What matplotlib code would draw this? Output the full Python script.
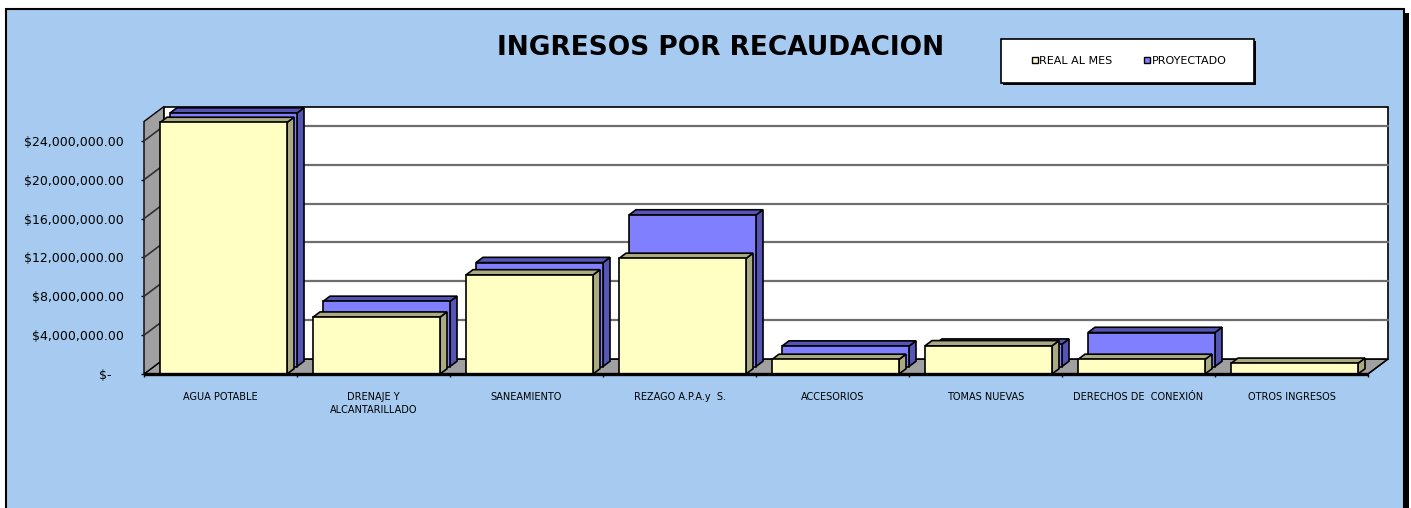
import matplotlib
matplotlib.use("Agg")
import matplotlib.pyplot as plt
from matplotlib.patches import Polygon, Rectangle, Patch
from matplotlib.lines import Line2D

# ---------------- data ----------------
title = "INGRESOS POR RECAUDACION"
categories = ["AGUA POTABLE", "DRENAJE Y\nALCANTARILLADO", "SANEAMIENTO",
              "REZAGO A.P.A.y  S.", "ACCESORIOS", "TOMAS NUEVAS",
              "DERECHOS DE  CONEXIÓN", "OTROS INGRESOS"]
real_al_mes = [25.9e6, 5.85e6, 10.2e6, 11.9e6, 1.5e6, 2.9e6, 1.5e6, 1.1e6]
proyectado = [26.1e6, 6.7e6, 10.7e6, 15.6e6, 2.1e6, 2.3e6, 3.5e6, 0.0]
series_labels = ["REAL AL MES", "PROYECTADO"]
y_ticks = [0, 4e6, 8e6, 12e6, 16e6, 20e6, 24e6]
y_tick_labels = ["$-   ", "$4,000,000.00", "$8,000,000.00", "$12,000,000.00",
                 "$16,000,000.00", "$20,000,000.00", "$24,000,000.00"]
y_max = 26e6

# ---------------- style ----------------
W, H = 1411, 508
BG = "#A6CAF0"
YEL_F, YEL_S = "#FFFFC4", "#ABAB82"
BLU_F, BLU_S = "#8080FF", "#5555B5"
GRAY = "#A0A0A0"

fig = plt.figure(figsize=(W / 100, H / 100), dpi=100)
fig.patch.set_facecolor("white")

# chart area with shadow
fig.patches.append(Rectangle((11 / W, -0.1), (1409 - 11) / W, (H - 13) / H + 0.1,
                             transform=fig.transFigure, facecolor="black",
                             edgecolor="none", zorder=-3))
fig.patches.append(Rectangle((6 / W, -0.1), (1404 - 6) / W, (H - 9) / H + 0.1,
                             transform=fig.transFigure, facecolor=BG,
                             edgecolor="black", lw=1.5, zorder=-2))

ax = fig.add_axes([144 / W, (H - 374) / H, 1224 / W, 252.5 / H])
ax.set_xlim(0, len(categories))
ax.set_ylim(0, y_max)
ax.patch.set_visible(False)
for s in ax.spines.values():
    s.set_visible(False)

fig.canvas.draw()
bb = ax.get_window_extent()
ppx = bb.width / len(categories)
ppy = bb.height / y_max


def D(d):
    """depth offset: d pixels to the right, 0.75*d pixels up."""
    return d / ppx, 0.75 * d / ppy


n = len(categories)
fx, fy = D(20)

# floor
ax.add_patch(Polygon([(0, 0), (n, 0), (n + fx, fy), (fx, fy)], closed=True,
                     facecolor=GRAY, edgecolor="black", lw=1.0, zorder=1, clip_on=False))
# left side wall
ax.add_patch(Polygon([(0, 0), (fx, fy), (fx, y_max + fy), (0, y_max)], closed=True,
                     facecolor=GRAY, edgecolor="black", lw=1.0, zorder=1, clip_on=False))
# back wall
ax.add_patch(Rectangle((fx, fy), n, y_max, facecolor="white", edgecolor="black",
                       lw=1.2, zorder=1, clip_on=False))
# gridlines
for t in y_ticks[1:]:
    ax.add_line(Line2D([fx, n + fx], [t + fy, t + fy], color="#6E6E6E", lw=1.6,
                       zorder=2, clip_on=False))
    ax.add_line(Line2D([0, fx], [t, t + fy], color="#303030", lw=1.2,
                       zorder=2, clip_on=False))

gap = 16 / ppx
bw = 127 / ppx


def box(x0, v, d0, dd, fc, sc, z):
    if v <= 0:
        return
    ox, oy = D(d0)
    ex, ey = D(d0 + dd)
    bx, by = ex - ox, ey - oy
    kw = dict(edgecolor="black", lw=1.2, joinstyle="miter", clip_on=False, zorder=z)
    ax.add_patch(Polygon([(x0 + bw + ox, oy), (x0 + bw + ox + bx, oy + by),
                          (x0 + bw + ox + bx, v + oy + by), (x0 + bw + ox, v + oy)],
                         closed=True, facecolor=sc, **kw))
    ax.add_patch(Polygon([(x0 + ox, v + oy), (x0 + bw + ox, v + oy),
                          (x0 + bw + ox + bx, v + oy + by), (x0 + ox + bx, v + oy + by)],
                         closed=True, facecolor=sc, **kw))
    ax.add_patch(Rectangle((x0 + ox, oy), bw, v, facecolor=fc, **kw))


for i, v in enumerate(proyectado):
    box(i + gap, v, 10, 7, BLU_F, BLU_S, 3 + i * 0.01)
for i, v in enumerate(real_al_mes):
    box(i + gap, v, 0, 7, YEL_F, YEL_S, 4 + i * 0.01)

# floor front edge and right edge
ax.add_line(Line2D([0, n], [0, 0], color="black", lw=2.4, zorder=6, clip_on=False,
                   solid_capstyle="butt"))
ax.add_line(Line2D([n, n + fx], [0, fy], color="black", lw=1.0, zorder=6, clip_on=False))

# ticks
ax.set_xticks([i + 0.5 for i in range(n)])
ax.set_xticklabels(categories, fontsize=7, linespacing=1.35)
ax.set_xticks(range(n + 1), minor=True)
ax.tick_params(axis="x", which="major", length=0, pad=13)
ax.tick_params(axis="x", which="minor", length=2.5, width=1, direction="out")
ax.set_yticks(y_ticks)
ax.set_yticklabels(y_tick_labels, fontsize=9)
ax.tick_params(axis="y", which="major", length=2.5, width=1, pad=12)

# title
fig.text(721 / W, 1 - 48 / H, title, fontsize=19, fontweight="bold",
         ha="center", va="center")

# legend box
fig.patches.append(Rectangle((1003 / W, 1 - 85 / H), 253 / W, 44 / H,
                             transform=fig.transFigure, facecolor="black",
                             edgecolor="none", zorder=1))
fig.patches.append(Rectangle((1001 / W, 1 - 83 / H), 253 / W, 44 / H,
                             transform=fig.transFigure, facecolor="white",
                             edgecolor="black", lw=1.2, zorder=2))
handles = [Patch(facecolor=YEL_F, edgecolor="black", lw=1.0),
           Patch(facecolor=BLU_F, edgecolor="black", lw=1.0)]
fig.legend(handles, series_labels, loc="center", bbox_to_anchor=(1129 / W, 1 - 61 / H),
           ncol=2, frameon=False, fontsize=8, handlelength=0.55, handleheight=0.55,
           handletextpad=0.15, columnspacing=2.8, borderpad=0)

fig.savefig("out.png", dpi=100, facecolor=fig.get_facecolor())
